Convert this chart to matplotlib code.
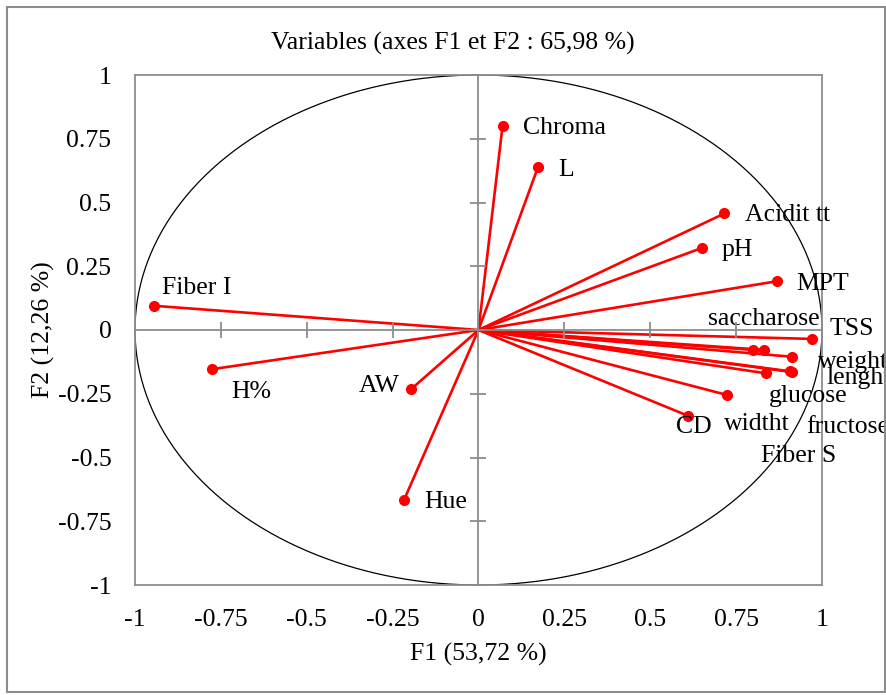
import matplotlib
matplotlib.use("Agg")
import matplotlib.pyplot as plt
import numpy as np
from matplotlib.patches import Rectangle

plt.rcParams['font.family'] = ['Liberation Serif', 'DejaVu Serif']

# Variables and their coordinates on F1/F2
variables = ["Chroma", "L", "Acidit tt", "pH", "MPT", "TSS", "saccharose", "Fiber S",
             "weight", "lenght", "fructose", "glucose", "widtht", "CD",
             "Fiber I", "H%", "AW", "Hue"]
f1 = [0.070, 0.173, 0.716, 0.651, 0.868, 0.970, 0.832, 0.798,
      0.913, 0.913, 0.907, 0.837, 0.724, 0.609,
      -0.945, -0.777, -0.197, -0.217]
f2 = [0.800, 0.638, 0.457, 0.322, 0.191, -0.035, -0.078, -0.078,
      -0.105, -0.165, -0.162, -0.170, -0.255, -0.336,
      0.095, -0.154, -0.233, -0.667]

# label offsets (pixels) and alignment
label_offsets = [(20, -2), (20, -3), (21, -2), (20, -2), (20, -3), (18, 10), (0, 31), (46, -106),
                 (26, -5), (34, -6), (16, -56), (3, -23), (-3, -29), (-12, -11),
                 (8, 18), (20, -23), (-11, 3), (20, -2)]
label_ha = ["left", "left", "left", "left", "left", "left", "center", "center",
            "left", "left", "left", "left", "left", "left",
            "left", "left", "right", "left"]

ticks = [-1, -0.75, -0.5, -0.25, 0, 0.25, 0.5, 0.75, 1]
tick_labels = ["-1", "-0.75", "-0.5", "-0.25", "0", "0.25", "0.5", "0.75", "1"]

title = "Variables (axes F1 et F2 : 65,98 %)"
xlabel = "F1 (53,72 %)"
ylabel = "F2 (12,26 %)"

W, H = 887, 695
fig = plt.figure(figsize=(W / 100, H / 100), dpi=100)
fig.patch.set_facecolor("white")
fig.patches.append(Rectangle((7 / W, 3 / H), (W - 9) / W, (H - 10) / H, transform=fig.transFigure,
                             fill=False, edgecolor="#8c8c8c", linewidth=1.5))

pos = [135 / W, 1 - 585 / H, (822 - 135) / W, (585 - 75) / H]
ax = fig.add_axes(pos)
ax.set_xlim(-1, 1)
ax.set_ylim(-1, 1)
for s in ax.spines.values():
    s.set_color("#8c8c8c")
    s.set_linewidth(1.3)
ax.set_xticks(ticks)
ax.set_xticklabels(tick_labels)
ax.set_yticks(ticks)
ax.set_yticklabels(tick_labels)
ax.tick_params(axis="both", length=0, labelsize=18.5)
ax.tick_params(axis="x", pad=17)
ax.tick_params(axis="y", pad=17)
ax.set_xlabel(xlabel, fontsize=18.5, labelpad=9)
ax.set_ylabel(ylabel, fontsize=18.5, labelpad=2)

# zero axes with ticks
ax2 = fig.add_axes(pos, sharex=ax, sharey=ax)
ax2.patch.set_visible(False)
for side in ["top", "right"]:
    ax2.spines[side].set_visible(False)
ax2.spines["left"].set_position("zero")
ax2.spines["bottom"].set_position("zero")
for side in ["left", "bottom"]:
    ax2.spines[side].set_color("#8c8c8c")
    ax2.spines[side].set_linewidth(1.3)
ax2.tick_params(axis="both", direction="inout", length=12, width=1.3, color="#8c8c8c",
                labelleft=False, labelbottom=False)

# unit circle
theta = np.linspace(0, 2 * np.pi, 400)
ax.plot(np.cos(theta), np.sin(theta), color="black", linewidth=0.9, zorder=2)

# vectors
for x, y in zip(f1, f2):
    ax.plot([0, x], [0, y], color="#ff0000", linewidth=1.9, zorder=3)
ax.plot(f1, f2, "o", color="#ff0000", markersize=7, zorder=4, linestyle="none")

for name, x, y, off, ha in zip(variables, f1, f2, label_offsets, label_ha):
    ax.annotate(name, (x, y), xytext=off, textcoords="offset pixels",
                ha=ha, va="center", fontsize=18.5, annotation_clip=False, zorder=5)

fig.text(453 / W, 1 - 43 / H, title, ha="center", va="center", fontsize=18.5)

fig.savefig("out.png", dpi=100)
